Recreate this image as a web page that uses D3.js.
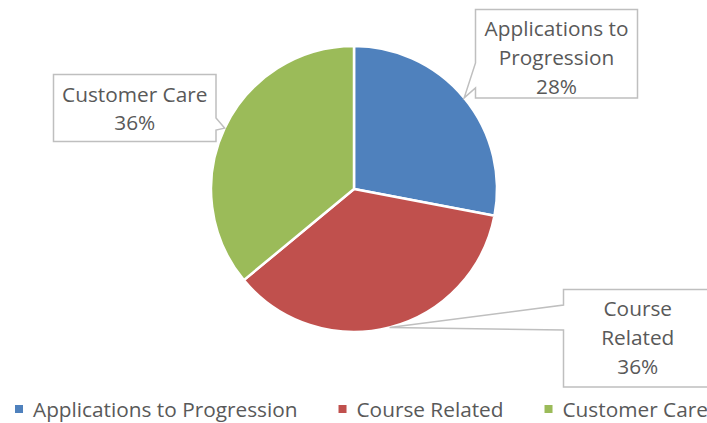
<!DOCTYPE html>
<html>
<head>
<meta charset="utf-8">
<script src="https://cdn.jsdelivr.net/npm/d3@7"></script>
<style>
  body { margin: 0; background: #fff; }
  text { font-family: "Open Sans", sans-serif; fill: #595959; }
</style>
</head>
<body>
<svg id="chart"></svg>
<script>
const categories = ["Applications to Progression", "Course Related", "Customer Care"];
const values = [28, 36, 36];
const labelLines = [["Applications to", "Progression"], ["Course", "Related"], ["Customer Care"]];
const colors = ["#4F81BD", "#C0504D", "#9BBB59"];

let width = 707, height = 423,
    cx = 354, cy = 189, r = 143,
    fontSize = 20.8, lineH = 28.7

let svg = d3.select("#chart").attr("width", width).attr("height", height)

let total = d3.sum(values)
let pie = d3.pie().sort(null).value(d => d)
let arcs = pie(values)
let arc = d3.arc().innerRadius(0).outerRadius(r)
let edge = d3.arc().innerRadius(r).outerRadius(r)

let g = svg.append("g").attr("transform", "translate(" + cx + "," + cy + ")")
g.selectAll("path")
  .data(arcs)
  .enter()
  .append("path")
  .attr("d", arc)
  .attr("fill", (d, i) => colors[i])
  .attr("stroke", "#fff")
  .attr("stroke-width", 2.5)
  .attr("stroke-linejoin", "round")

// callout boxes: rect + wedge side (placement of Excel data labels), ty = middle line baseline
let boxes = [
  {x0: 475.5, y0: 9.5, x1: 637.5, y1: 98, side: "left", w0: 63, w1: 88, ty: 65},
  {x0: 563.5, y0: 289.5, x1: 712, y1: 387, side: "left", w0: 305, w1: 330, ty: 345},
  {x0: 53.5, y0: 74.5, x1: 216, y1: 141.5, side: "right", w0: 118, w1: 130, ty: 116}
]

function calloutPath(b, tip) {
  let p = d3.path()
  p.moveTo(b.x0, b.y0)
  p.lineTo(b.x1, b.y0)
  if (b.side === "right") {
    p.lineTo(b.x1, b.w0)
    p.lineTo(tip[0], tip[1])
    p.lineTo(b.x1, b.w1)
  }
  p.lineTo(b.x1, b.y1)
  p.lineTo(b.x0, b.y1)
  if (b.side === "left") {
    p.lineTo(b.x0, b.w1)
    p.lineTo(tip[0], tip[1])
    p.lineTo(b.x0, b.w0)
  }
  p.closePath()
  return p.toString()
}

let labels = svg.append("g")
arcs.forEach((d, i) => {
  let c = edge.centroid(d)
  let tip = [cx + c[0], cy + c[1]]
  let b = boxes[i]
  labels.append("path")
    .attr("d", calloutPath(b, tip))
    .attr("fill", "#fff")
    .attr("stroke", "#BFBFBF")
    .attr("stroke-width", 1.5)
  let lines = labelLines[i].concat([Math.round(values[i] / total * 100) + "%"])
  let midX = (b.x0 + b.x1) / 2
  let t = labels.append("text")
    .attr("text-anchor", "middle")
    .attr("font-size", fontSize)
  lines.forEach((s, k) => {
    t.append("tspan")
      .attr("x", midX)
      .attr("y", b.ty + (k - (lines.length - 1) / 2) * lineH)
      .text(s)
  })
})

// legend
let legend = svg.append("g")
let lx = 15, ly = 409
categories.forEach((c, i) => {
  let item = legend.append("g").attr("transform", "translate(" + lx + "," + ly + ")")
  item.append("rect").attr("x", 0).attr("y", -4).attr("width", 8).attr("height", 8).attr("fill", colors[i])
  let t = item.append("text").attr("x", 18).attr("y", 7.5).attr("font-size", fontSize).text(c)
  lx += 18 + t.node().getComputedTextLength() + 41
})
</script>
</body>
</html>
